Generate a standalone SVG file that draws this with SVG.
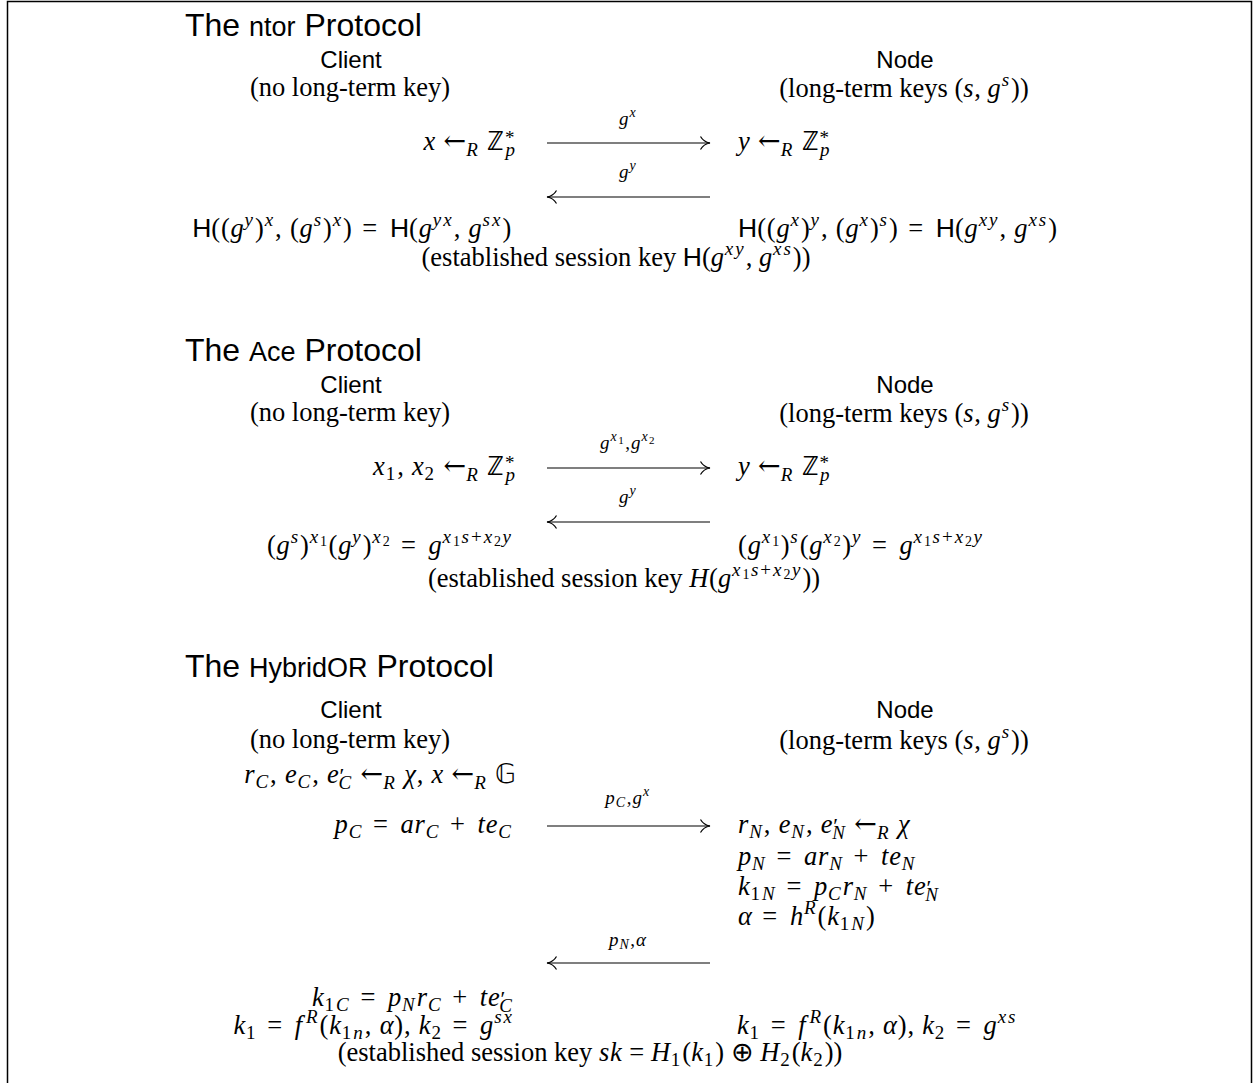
<svg xmlns="http://www.w3.org/2000/svg" width="1258" height="1083" viewBox="0 0 1258 1083">
<style>
text{fill:#000}
.ti{font-family:"Liberation Sans",Arial,sans-serif;font-size:32px}
.tw{font-size:27px}
.hd{font-family:"Liberation Sans",Arial,sans-serif;font-size:24px}
.r{font-family:"Liberation Serif","Times New Roman",serif;font-size:26.5px}
.m{font-family:"Liberation Serif","Times New Roman",serif;font-size:26.5px;font-style:italic;letter-spacing:0.8px}
.mi{font-style:italic;letter-spacing:0.8px}
.lb{font-family:"Liberation Serif","Times New Roman",serif;font-size:19px;font-style:italic;letter-spacing:1px}
.u{font-style:normal}
.s{font-size:19px;letter-spacing:2px}
.ss{font-size:14px;letter-spacing:1.5px}
.op{font-style:normal;letter-spacing:3px}
.la{font-family:"DejaVu Serif",serif;font-style:normal;font-size:27px;letter-spacing:0}
.p{font-style:normal;font-size:22px;letter-spacing:0}
.sf{font-family:"Liberation Sans",Arial,sans-serif;font-style:normal;letter-spacing:0}
.ar{stroke:#000;stroke-width:1.2;fill:none}
.frame{stroke:#000;stroke-width:1.5;fill:none}
</style>
<defs>
<marker id="ah" viewBox="0 0 12 16" refX="11" refY="8" markerWidth="12" markerHeight="16" markerUnits="userSpaceOnUse" orient="auto-start-reverse">
<path d="M1.5 1.5 C3.5 5 6.5 7.2 11 8 C6.5 8.8 3.5 11 1.5 14.5" stroke="#000" stroke-width="1.2" fill="none"/>
</marker>
</defs>
<path class="frame" d="M7.5 1090 V1.5 H1251.5 V1090"/>

<g id="ntor">
<text class="ti" x="185" y="36">The <tspan class="tw">ntor</tspan> Protocol</text>
<g id="ntor-client">
<text class="hd" x="351" y="68" text-anchor="middle">Client</text>
<text class="r" x="350" y="96" text-anchor="middle">(no long-term key)</text>
<text class="m" x="517" y="150" text-anchor="end">x <tspan class="la">←</tspan><tspan class="s" dy="6">R</tspan><tspan dy="-6"> </tspan><tspan class="u">ℤ</tspan><tspan class="s u" dy="-6">*</tspan><tspan class="s" dx="-11" dy="12">p</tspan></text>
<text class="m" x="512" y="237" text-anchor="end"><tspan class="sf">H</tspan><tspan class="u">((</tspan>g<tspan class="s" dy="-11">y</tspan><tspan class="u" dy="11">)</tspan><tspan class="s" dy="-11">x</tspan><tspan class="u" dy="11">, (</tspan>g<tspan class="s" dy="-11">s</tspan><tspan class="u" dy="11">)</tspan><tspan class="s" dy="-11">x</tspan><tspan class="u" dy="11">)</tspan><tspan class="op"> = </tspan><tspan class="sf">H</tspan><tspan class="u">(</tspan>g<tspan class="s" dy="-11">yx</tspan><tspan class="u" dy="11">, </tspan>g<tspan class="s" dy="-11">sx</tspan><tspan class="u" dy="11">)</tspan></text>
</g>
<g id="ntor-node">
<text class="hd" x="905" y="68" text-anchor="middle">Node</text>
<text class="r" x="904" y="97" text-anchor="middle">(long-term keys (<tspan class="mi">s</tspan>, <tspan class="mi">g</tspan><tspan class="s mi" dy="-11">s</tspan><tspan dy="11">))</tspan></text>
<text class="m" x="738" y="150">y <tspan class="la">←</tspan><tspan class="s" dy="6">R</tspan><tspan dy="-6"> </tspan><tspan class="u">ℤ</tspan><tspan class="s u" dy="-6">*</tspan><tspan class="s" dx="-11" dy="12">p</tspan></text>
<text class="m" x="738" y="237"><tspan class="sf">H</tspan><tspan class="u">((</tspan>g<tspan class="s" dy="-11">x</tspan><tspan class="u" dy="11">)</tspan><tspan class="s" dy="-11">y</tspan><tspan class="u" dy="11">, (</tspan>g<tspan class="s" dy="-11">x</tspan><tspan class="u" dy="11">)</tspan><tspan class="s" dy="-11">s</tspan><tspan class="u" dy="11">)</tspan><tspan class="op"> = </tspan><tspan class="sf">H</tspan><tspan class="u">(</tspan>g<tspan class="s" dy="-11">xy</tspan><tspan class="u" dy="11">, </tspan>g<tspan class="s" dy="-11">xs</tspan><tspan class="u" dy="11">)</tspan></text>
</g>
<text class="r" x="616" y="266" text-anchor="middle">(established session key <tspan class="sf">H</tspan>(<tspan class="mi">g</tspan><tspan class="s mi" dy="-11">xy</tspan><tspan dy="11">, </tspan><tspan class="mi">g</tspan><tspan class="s mi" dy="-11">xs</tspan><tspan dy="11">))</tspan></text>
</g>

<g id="ace">
<text class="ti" x="185" y="361">The <tspan class="tw">Ace</tspan> Protocol</text>
<g id="ace-client">
<text class="hd" x="351" y="393" text-anchor="middle">Client</text>
<text class="r" x="350" y="421" text-anchor="middle">(no long-term key)</text>
<text class="m" x="517" y="475" text-anchor="end">x<tspan class="s u" dy="5">1</tspan><tspan class="u" dy="-5">, </tspan>x<tspan class="s u" dy="5">2</tspan><tspan dy="-5"> </tspan><tspan class="la">←</tspan><tspan class="s" dy="6">R</tspan><tspan dy="-6"> </tspan><tspan class="u">ℤ</tspan><tspan class="s u" dy="-6">*</tspan><tspan class="s" dx="-11" dy="12">p</tspan></text>
<text class="m" x="513" y="554" text-anchor="end"><tspan class="u">(</tspan>g<tspan class="s" dy="-11">s</tspan><tspan class="u" dy="11">)</tspan><tspan class="s" dy="-11">x</tspan><tspan class="ss u" dy="3">1</tspan><tspan class="u" dy="8">(</tspan>g<tspan class="s" dy="-11">y</tspan><tspan class="u" dy="11">)</tspan><tspan class="s" dy="-11">x</tspan><tspan class="ss u" dy="3">2</tspan><tspan class="op" dy="8"> = </tspan>g<tspan class="s" dy="-11">x</tspan><tspan class="ss u" dy="3">1</tspan><tspan class="s" dy="-3">s</tspan><tspan class="s u">+</tspan><tspan class="s">x</tspan><tspan class="ss u" dy="3">2</tspan><tspan class="s" dy="-3">y</tspan></text>
</g>
<g id="ace-node">
<text class="hd" x="905" y="393" text-anchor="middle">Node</text>
<text class="r" x="904" y="422" text-anchor="middle">(long-term keys (<tspan class="mi">s</tspan>, <tspan class="mi">g</tspan><tspan class="s mi" dy="-11">s</tspan><tspan dy="11">))</tspan></text>
<text class="m" x="738" y="475">y <tspan class="la">←</tspan><tspan class="s" dy="6">R</tspan><tspan dy="-6"> </tspan><tspan class="u">ℤ</tspan><tspan class="s u" dy="-6">*</tspan><tspan class="s" dx="-11" dy="12">p</tspan></text>
<text class="m" x="738" y="554"><tspan class="u">(</tspan>g<tspan class="s" dy="-11">x</tspan><tspan class="ss u" dy="3">1</tspan><tspan class="u" dy="8">)</tspan><tspan class="s" dy="-11">s</tspan><tspan class="u" dy="11">(</tspan>g<tspan class="s" dy="-11">x</tspan><tspan class="ss u" dy="3">2</tspan><tspan class="u" dy="8">)</tspan><tspan class="s" dy="-11">y</tspan><tspan class="op" dy="11"> = </tspan>g<tspan class="s" dy="-11">x</tspan><tspan class="ss u" dy="3">1</tspan><tspan class="s" dy="-3">s</tspan><tspan class="s u">+</tspan><tspan class="s">x</tspan><tspan class="ss u" dy="3">2</tspan><tspan class="s" dy="-3">y</tspan></text>
</g>
<text class="r" x="624" y="587" text-anchor="middle">(established session key <tspan class="mi">H</tspan>(<tspan class="mi">g</tspan><tspan class="s mi" dy="-11">x</tspan><tspan class="ss" dy="3">1</tspan><tspan class="s mi" dy="-3">s</tspan><tspan class="s">+</tspan><tspan class="s mi">x</tspan><tspan class="ss" dy="3">2</tspan><tspan class="s mi" dy="-3">y</tspan><tspan dy="11">))</tspan></text>
</g>

<g id="hybridor">
<text class="ti" x="185" y="677">The <tspan class="tw">HybridOR</tspan> Protocol</text>
<g id="hybridor-client">
<text class="hd" x="351" y="718" text-anchor="middle">Client</text>
<text class="r" x="350" y="748" text-anchor="middle">(no long-term key)</text>
<text class="m" x="517" y="783" text-anchor="end">r<tspan class="s" dy="5">C</tspan><tspan class="u" dy="-5">, </tspan>e<tspan class="s" dy="5">C</tspan><tspan class="u" dy="-5">, </tspan>e<tspan class="p">′</tspan><tspan class="s" dx="-6" dy="6">C</tspan><tspan dy="-6"> </tspan><tspan class="la">←</tspan><tspan class="s" dy="6">R</tspan><tspan dy="-6"> χ</tspan><tspan class="u">, </tspan>x <tspan class="la">←</tspan><tspan class="s" dy="6">R</tspan><tspan dy="-6"> </tspan><tspan class="u">𝔾</tspan></text>
<text class="m" x="513" y="833" text-anchor="end">p<tspan class="s" dy="5">C</tspan><tspan class="op" dy="-5"> = </tspan>ar<tspan class="s" dy="5">C</tspan><tspan class="op" dy="-5"> + </tspan>te<tspan class="s" dy="5">C</tspan></text>
<text class="m" x="514" y="1006" text-anchor="end">k<tspan class="s u" dy="5">1</tspan><tspan class="s">C</tspan><tspan class="op" dy="-5"> = </tspan>p<tspan class="s" dy="5">N</tspan><tspan dy="-5">r</tspan><tspan class="s" dy="5">C</tspan><tspan class="op" dy="-5"> + </tspan>te<tspan class="p">′</tspan><tspan class="s" dx="-6" dy="6">C</tspan></text>
<text class="m" x="514" y="1034" text-anchor="end">k<tspan class="s u" dy="5">1</tspan><tspan class="op" dy="-5"> = </tspan>f<tspan class="s" dx="3" dy="-11">R</tspan><tspan class="u" dy="11">(</tspan>k<tspan class="s u" dy="5">1</tspan><tspan class="s">n</tspan><tspan class="u" dy="-5">, </tspan>α<tspan class="u">), </tspan>k<tspan class="s u" dy="5">2</tspan><tspan class="op" dy="-5"> = </tspan>g<tspan class="s" dy="-11">sx</tspan></text>
</g>
<g id="hybridor-node">
<text class="hd" x="905" y="718" text-anchor="middle">Node</text>
<text class="r" x="904" y="749" text-anchor="middle">(long-term keys (<tspan class="mi">s</tspan>, <tspan class="mi">g</tspan><tspan class="s mi" dy="-11">s</tspan><tspan dy="11">))</tspan></text>
<text class="m" x="738" y="833">r<tspan class="s" dy="5">N</tspan><tspan class="u" dy="-5">, </tspan>e<tspan class="s" dy="5">N</tspan><tspan class="u" dy="-5">, </tspan>e<tspan class="p">′</tspan><tspan class="s" dx="-6" dy="6">N</tspan><tspan dy="-6"> </tspan><tspan class="la">←</tspan><tspan class="s" dy="6">R</tspan><tspan dy="-6"> χ</tspan></text>
<text class="m" x="738" y="865">p<tspan class="s" dy="5">N</tspan><tspan class="op" dy="-5"> = </tspan>ar<tspan class="s" dy="5">N</tspan><tspan class="op" dy="-5"> + </tspan>te<tspan class="s" dy="5">N</tspan></text>
<text class="m" x="738" y="895">k<tspan class="s u" dy="5">1</tspan><tspan class="s">N</tspan><tspan class="op" dy="-5"> = </tspan>p<tspan class="s" dy="5">C</tspan><tspan dy="-5">r</tspan><tspan class="s" dy="5">N</tspan><tspan class="op" dy="-5"> + </tspan>te<tspan class="p">′</tspan><tspan class="s" dx="-6" dy="6">N</tspan></text>
<text class="m" x="738" y="925">α<tspan class="op"> = </tspan>h<tspan class="s" dy="-11">R</tspan><tspan class="u" dy="11">(</tspan>k<tspan class="s u" dy="5">1</tspan><tspan class="s">N</tspan><tspan class="u" dy="-5">)</tspan></text>
<text class="m" x="737" y="1034">k<tspan class="s u" dy="5">1</tspan><tspan class="op" dy="-5"> = </tspan>f<tspan class="s" dx="3" dy="-11">R</tspan><tspan class="u" dy="11">(</tspan>k<tspan class="s u" dy="5">1</tspan><tspan class="s">n</tspan><tspan class="u" dy="-5">, </tspan>α<tspan class="u">), </tspan>k<tspan class="s u" dy="5">2</tspan><tspan class="op" dy="-5"> = </tspan>g<tspan class="s" dy="-11">xs</tspan></text>
</g>
<text class="r" x="590" y="1061" text-anchor="middle">(established session key <tspan class="mi">sk</tspan> = <tspan class="mi">H</tspan><tspan class="s" dy="5">1</tspan><tspan dy="-5">(</tspan><tspan class="mi">k</tspan><tspan class="s" dy="5">1</tspan><tspan dy="-5">) ⊕ </tspan><tspan class="mi">H</tspan><tspan class="s" dy="5">2</tspan><tspan dy="-5">(</tspan><tspan class="mi">k</tspan><tspan class="s" dy="5">2</tspan><tspan dy="-5">))</tspan></text>
</g>

<g id="connectors">
<line class="ar" x1="547" y1="143" x2="710" y2="143" marker-end="url(#ah)"/>
<text class="lb" x="628" y="125" text-anchor="middle">g<tspan class="ss" dy="-8">x</tspan></text>
<line class="ar" x1="547" y1="197" x2="710" y2="197" marker-start="url(#ah)"/>
<text class="lb" x="628" y="178" text-anchor="middle">g<tspan class="ss" dy="-8">y</tspan></text>
<line class="ar" x1="547" y1="468" x2="710" y2="468" marker-end="url(#ah)"/>
<text class="lb" x="628" y="449" text-anchor="middle">g<tspan class="ss" dy="-8">x</tspan><tspan class="ss u" style="font-size:11px" dy="3">1</tspan><tspan class="u" dy="5">,</tspan>g<tspan class="ss" dy="-8">x</tspan><tspan class="ss u" style="font-size:11px" dy="3">2</tspan></text>
<line class="ar" x1="547" y1="522" x2="710" y2="522" marker-start="url(#ah)"/>
<text class="lb" x="628" y="503" text-anchor="middle">g<tspan class="ss" dy="-8">y</tspan></text>
<line class="ar" x1="547" y1="826" x2="710" y2="826" marker-end="url(#ah)"/>
<text class="lb" x="628" y="804" text-anchor="middle">p<tspan class="ss" dy="3">C</tspan><tspan class="u" dy="-3">,</tspan>g<tspan class="ss" dy="-8">x</tspan></text>
<line class="ar" x1="547" y1="963" x2="710" y2="963" marker-start="url(#ah)"/>
<text class="lb" x="628" y="946" text-anchor="middle">p<tspan class="ss" dy="3">N</tspan><tspan class="u" dy="-3">,</tspan>α</text>
</g>
</svg>
